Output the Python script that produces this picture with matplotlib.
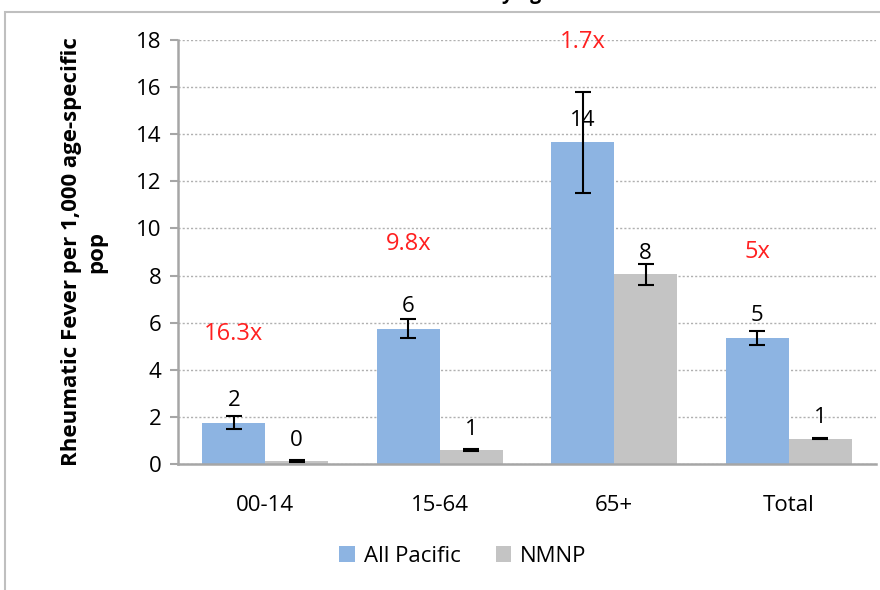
import matplotlib
matplotlib.use("Agg")
import matplotlib.pyplot as plt
from matplotlib.patches import Rectangle
import numpy as np

plt.rcParams['font.family'] = ['Open Sans', 'DejaVu Sans']

categories = ["00-14", "15-64", "65+", "Total"]
all_pacific = [1.75, 5.75, 13.65, 5.35]
all_pacific_err = [0.28, 0.40, 2.15, 0.30]
all_pacific_labels = ["2", "6", "14", "5"]
nmnp = [0.12, 0.58, 8.05, 1.08]
nmnp_err = [0.05, 0.05, 0.45, 0.04]
nmnp_labels = ["0", "1", "8", "1"]
ratio_labels = ["16.3x", "9.8x", "1.7x", "5x"]
ratio_y = [5.5, 9.35, 17.9, 9.0]
yticks = [0, 2, 4, 6, 8, 10, 12, 14, 16, 18]

blue = "#8db4e2"
grey = "#c4c4c4"
red = "#ff2020"

fig = plt.figure(figsize=(8.8, 5.9), dpi=100)
ax = fig.add_axes([0.2023, 0.2136, 0.7932, 0.7186])

x = np.arange(len(categories))
w = 0.36
ax.bar(x - w / 2, all_pacific, w, color=blue, label="All Pacific", zorder=2)
ax.bar(x + w / 2, nmnp, w, color=grey, label="NMNP", zorder=2)
ax.errorbar(x - w / 2, all_pacific, yerr=all_pacific_err, fmt='none',
            ecolor='black', elinewidth=1.5, capsize=6, capthick=1.5, zorder=3)
ax.errorbar(x + w / 2, nmnp, yerr=nmnp_err, fmt='none',
            ecolor='black', elinewidth=1.5, capsize=6, capthick=1.5, zorder=3)

for xi, v, lab in zip(x - w / 2, all_pacific, all_pacific_labels):
    ax.text(xi, v + 0.5, lab, ha='center', va='bottom', fontsize=16, zorder=4)
for xi, v, lab in zip(x + w / 2, nmnp, nmnp_labels):
    ax.text(xi, v + 0.45, lab, ha='center', va='bottom', fontsize=16, zorder=4)
for xi, yv, lab in zip(x - w / 2, ratio_y, ratio_labels):
    ax.text(xi, yv, lab, ha='center', va='center', fontsize=17, color=red, zorder=4)

ax.set_xlim(-0.5, len(categories) - 0.5)
ax.set_ylim(0, 18)
ax.set_yticks(yticks)
ax.set_xticks(x)
ax.set_xticklabels(categories, fontsize=16)
ax.tick_params(axis='y', labelsize=16, length=6, color='#a6a6a6', width=1.5, pad=6)
ax.tick_params(axis='x', length=0, pad=22)
ax.yaxis.grid(True, linestyle=(0, (1.5, 1.5)), color='#b0b0b0', linewidth=1, zorder=0)
ax.set_axisbelow(True)
for s in ['top', 'right']:
    ax.spines[s].set_visible(False)
for s in ['left', 'bottom']:
    ax.spines[s].set_color('#a6a6a6')
    ax.spines[s].set_linewidth(1.8)

ax.set_ylabel("Rheumatic Fever per 1,000 age-specific\npop", fontsize=16,
              fontweight='bold', linespacing=1.25)
ax.yaxis.set_label_coords(-0.102, 0.5)

leg = fig.legend(loc='center', bbox_to_anchor=(0.526, 0.057), ncol=2, frameon=False,
                 fontsize=16, handlelength=0.7, handleheight=0.7, handletextpad=0.4,
                 columnspacing=1.6)

# outer frame (left and top edges visible)
fig.patches.append(Rectangle((5 / 880, -0.1), 1.1, 1 - 12 / 590 + 0.1,
                             transform=fig.transFigure, fill=False,
                             edgecolor='#bfbfbf', linewidth=1.5))
fig.text(553 / 880, 1.0 + 1.5 / 590, "Rheumatic Fever Rates by age", ha='right',
         va='baseline', fontsize=14, fontweight='bold')

fig.savefig("out.png", dpi=100)
